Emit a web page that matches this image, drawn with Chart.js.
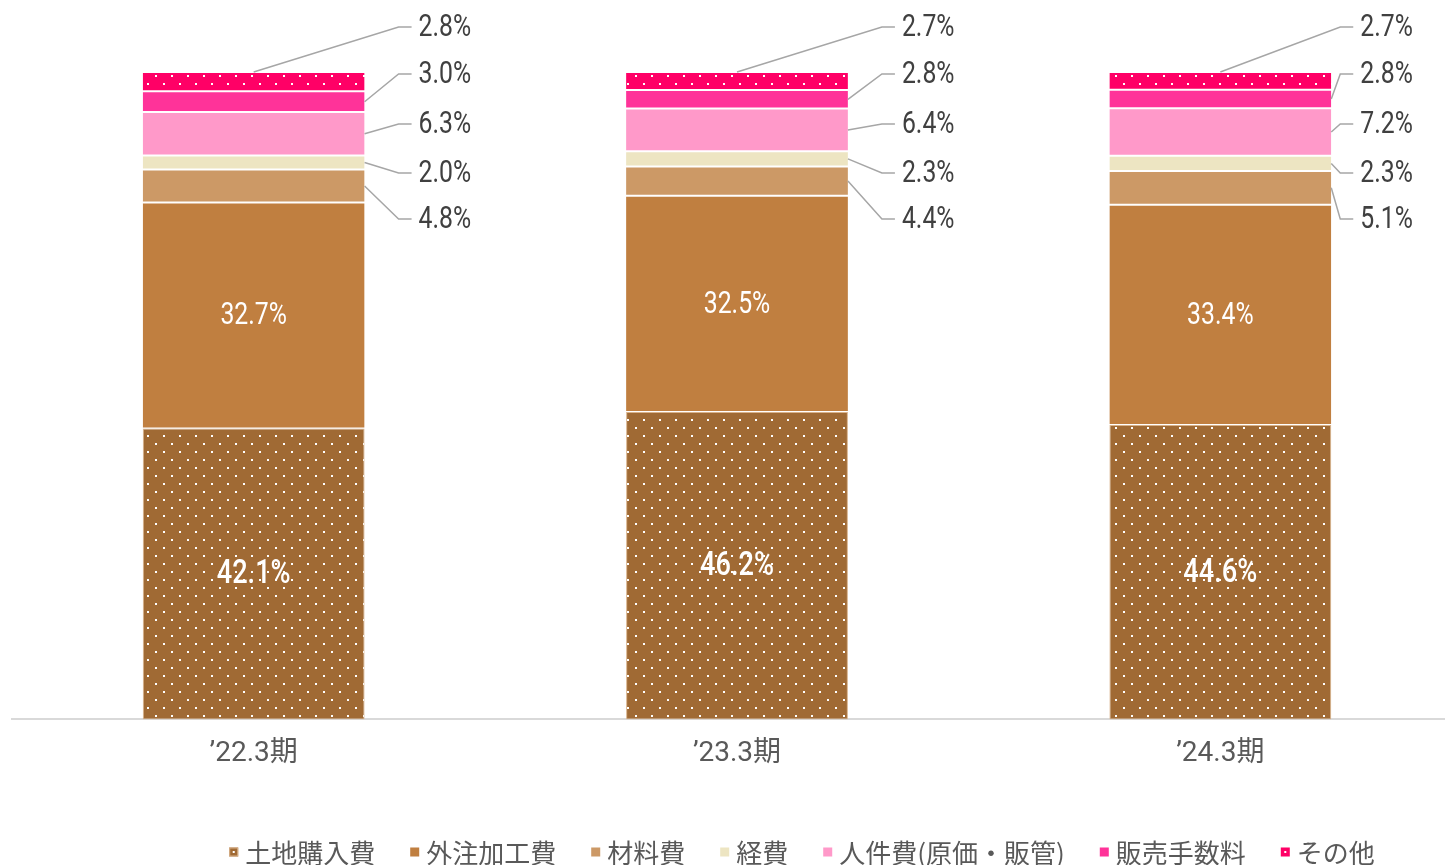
<!DOCTYPE html>
<html lang="ja">
<head>
<meta charset="utf-8">
<script src="https://cdn.jsdelivr.net/npm/chart.js@4.4.1/dist/chart.umd.min.js"></script>
<style>
  html, body { margin: 0; padding: 0; background: #fff; overflow: hidden; }
  #wrap { width: 1445px; height: 865px; overflow: hidden; }
</style>
</head>
<body>
<div id="wrap"><canvas id="cost-chart" width="1462" height="865"></canvas></div>
<script>
const periods = ['’22.3期', '’23.3期', '’24.3期'];
const seriesNames = ['土地購入費', '外注加工費', '材料費', '経費', '人件費(原価・販管)', '販売手数料', 'その他'];

// cost ratios (%)
const landCost = [42.1, 46.2, 44.6];
const outsourcing = [32.7, 32.5, 33.4];
const materials = [4.8, 4.4, 5.1];
const expenses = [2.0, 2.3, 2.3];
const personnel = [6.3, 6.4, 7.2];
const salesCommission = [3.0, 2.8, 2.8];
const others = [2.8, 2.7, 2.7];

const seriesValues = [landCost, outsourcing, materials, expenses, personnel, salesCommission, others];
const seriesColors = ['#A06A34', '#C07F40', '#CC9966', '#EDE5C2', '#FF99C9', '#FF3399', '#FF0066'];
const dotted = [true, false, false, false, false, false, true];

const numFont = "Roboto, 'Noto Sans CJK JP', sans-serif";
const jpFont = "'Noto Sans CJK JP', sans-serif";

function dotPattern(color) {
    const c = document.createElement('canvas');
    c.width = 16;
    c.height = 16;
    const g = c.getContext('2d');
    g.fillStyle = color;
    g.fillRect(0, 0, 16, 16);
    g.fillStyle = '#fff';
    g.fillRect(3, 3, 2, 2);
    g.fillRect(11, 11, 2, 2);
    return g.createPattern(c, 'repeat');
}

const fmt = v => v.toFixed(1) + '%';

// condensed text: squeeze horizontally like the original narrow font
function narrowText(ctx, text, x, y, align) {
    const sx = 0.8;
    ctx.save();
    ctx.translate(x, y);
    ctx.scale(sx, 1);
    ctx.textAlign = align;
    ctx.fillText(text, 0, 0);
    ctx.restore();
}

// each bar is shown as 100% stacked
const totals = periods.map((p, i) => seriesValues.reduce((sum, s) => sum + s[i], 0));

const datasets = seriesNames.map((name, s) => ({
    label: name,
    data: seriesValues[s].map((v, i) => v / totals[i] * 100),
    backgroundColor: dotted[s] ? dotPattern(seriesColors[s]) : seriesColors[s],
    borderColor: s === 0 ? '#D9B28A' : '#fff',
    borderWidth: s === 0 ? 1 : { top: 1, bottom: 1, left: 0, right: 0 },
    borderSkipped: false,
    barPercentage: 0.459,
    categoryPercentage: 1
}));

// label layout for the small segments
const outsideOffsets = [-45, 2, 52, 101, 147];
const labelGap = [54, 54, 29];

const valueLabels = {
    id: 'valueLabels',
    afterDatasetsDraw(chart) {
        const ctx = chart.ctx;
        ctx.save();
        ctx.textBaseline = 'middle';
        periods.forEach((p, i) => {
            // big segments: white labels inside
            [0, 1].forEach(s => {
                const bar = chart.getDatasetMeta(s).data[i];
                ctx.font = s === 0 ? `500 34px ${numFont}` : `31px ${numFont}`;
                ctx.fillStyle = '#fff';
                narrowText(ctx, fmt(seriesValues[s][i]), bar.x, (bar.y + bar.base) / 2 + 1, 'center');
            });
            // small segments: leader lines to the right
            const topBar = chart.getDatasetMeta(6).data[i];
            const right = topBar.x + topBar.width / 2;
            const gap = labelGap[i];
            for (let s = 6; s >= 2; s--) {
                const bar = chart.getDatasetMeta(s).data[i];
                const ly = topBar.y + outsideOffsets[6 - s];
                ctx.strokeStyle = '#A6A6A6';
                ctx.lineWidth = 1.5;
                ctx.beginPath();
                if (s === 6) ctx.moveTo(bar.x, bar.y);
                else ctx.moveTo(right, (bar.y + bar.base) / 2);
                ctx.lineTo(right + gap - 20, ly);
                ctx.lineTo(right + gap - 7, ly);
                ctx.stroke();
                ctx.font = `31px ${numFont}`;
                ctx.fillStyle = '#404040';
                narrowText(ctx, fmt(seriesValues[s][i]), right + gap, ly + 1, 'left');
            }
        });
        ctx.restore();
    }
};

const bottomLegend = {
    id: 'bottomLegend',
    afterDraw(chart) {
        const ctx = chart.ctx;
        ctx.save();
        ctx.font = `26px ${jpFont}`;
        ctx.textBaseline = 'middle';
        ctx.textAlign = 'left';
        const box = 9, textGap = 7, itemGap = 35;
        const widths = seriesNames.map(n => ctx.measureText(n).width);
        const total = widths.reduce((a, b) => a + b, 0) + seriesNames.length * (box + textGap) + (seriesNames.length - 1) * itemGap;
        let x = 802 - total / 2;
        const y = 852;
        seriesNames.forEach((n, i) => {
            ctx.fillStyle = seriesColors[i];
            ctx.fillRect(x, y - box / 2, box, box);
            if (dotted[i]) {
                ctx.fillStyle = '#fff';
                ctx.fillRect(x + 3.5, y - 1, 2, 2);
            }
            if (i === 0) {
                ctx.strokeStyle = '#D9B28A';
                ctx.lineWidth = 1;
                ctx.strokeRect(x + 0.5, y - box / 2 + 0.5, box - 1, box - 1);
            }
            ctx.fillStyle = '#595959';
            ctx.fillText(n, x + box + textGap, y + 1);
            x += box + textGap + widths[i] + itemGap;
        });
        ctx.restore();
    }
};

const ctx = document.getElementById('cost-chart').getContext('2d');
new Chart(ctx, {
    type: 'bar',
    data: { labels: periods, datasets: datasets },
    options: {
        responsive: false,
        animation: false,
        devicePixelRatio: 1,
        layout: { padding: { left: 12, right: 0, top: 72, bottom: 76 } },
        plugins: {
            legend: { display: false },
            tooltip: { enabled: false }
        },
        scales: {
            x: {
                stacked: true,
                grid: { display: false, drawTicks: false },
                border: { color: '#D9D9D9', width: 2 },
                ticks: {
                    color: '#595959',
                    padding: 18,
                    font: { family: numFont, size: 28 }
                }
            },
            y: {
                stacked: true,
                display: false,
                min: 0,
                max: 100
            }
        }
    },
    plugins: [valueLabels, bottomLegend]
});
</script>
</body>
</html>
